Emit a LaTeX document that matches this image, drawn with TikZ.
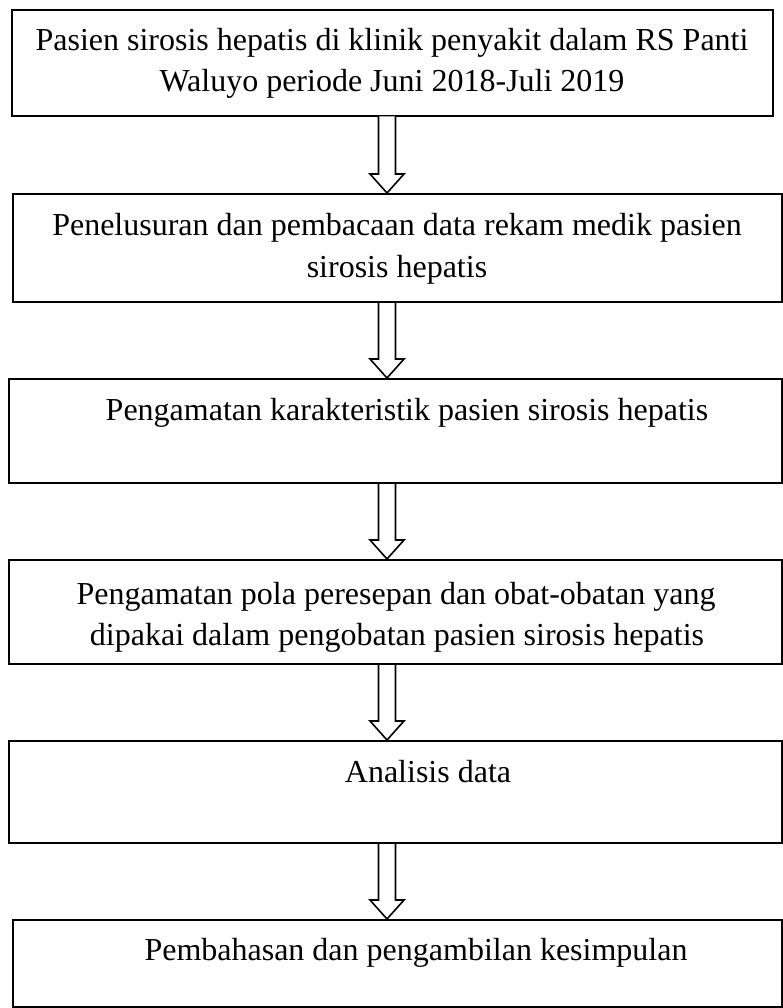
\documentclass[tikz,border=0pt]{standalone}
\usepackage{fontspec}
\setmainfont{Liberation Serif}
\usetikzlibrary{calc}
\tikzset{
  box/.style={draw=black, line width=2pt, rectangle},
  txt/.style={anchor=base, inner sep=0pt, font=\fontsize{32}{41}\selectfont},
  blockarrow/.style={draw=black, line width=1.6pt, line join=miter, fill=white},
}
\newcommand\blockarr[2]{%
  \draw[blockarrow] let \p1=(#1), \p2=(#2) in
    (\x1-8.5pt,\y1) -- (\x1-8.5pt,\y2+19pt) -- (\x1-17pt,\y2+19pt) -- (\x2,\y2)
    -- (\x1+17pt,\y2+19pt) -- (\x1+8.5pt,\y2+19pt) -- (\x1+8.5pt,\y1);}
\begin{document}
\begin{tikzpicture}[x=1pt,y=-1pt]
\useasboundingbox (0,0) rectangle (782,1008);
% boxes
\path[box] (12,10) rectangle (773,116);
\coordinate (b1n) at (387,10);
\node[inner sep=0pt, minimum width=761pt, minimum height=106pt, anchor=north west] (b1) at (12,10) {};
\node[box, inner sep=0pt, minimum width=769pt, minimum height=108pt, anchor=north west] (b2) at (12,193) {};
\node[box, inner sep=0pt, minimum width=773pt, minimum height=104pt, anchor=north west] (b3) at (8,378) {};
\node[box, inner sep=0pt, minimum width=773pt, minimum height=104pt, anchor=north west] (b4) at (8,559) {};
\node[box, inner sep=0pt, minimum width=773pt, minimum height=102pt, anchor=north west] (b5) at (8,740) {};
\node[box, inner sep=0pt, minimum width=769pt, minimum height=87pt, anchor=north west] (b6) at (12,919) {};
% texts
\node[txt] (t1a) at (392,51) {Pasien sirosis hepatis di klinik penyakit dalam RS Panti};
\node[txt] (t1b) at (392,92) {Waluyo periode Juni 2018-Juli 2019};
\node[txt] (t2a) at (397,236) {Penelusuran dan pembacaan data rekam medik pasien};
\node[txt] (t2b) at (397,277) {sirosis hepatis};
\node[txt] (t3) at (407,420) {Pengamatan karakteristik pasien sirosis hepatis};
\node[txt] (t4a) at (396,604) {Pengamatan pola peresepan dan obat-obatan yang};
\node[txt] (t4b) at (397,645) {dipakai dalam pengobatan pasien sirosis hepatis};
\node[txt] (t5) at (428,782) {Analisis data};
\node[txt] (t6) at (416,960) {Pembahasan dan pengambilan kesimpulan};
% arrows
\coordinate (ax) at (387,0);
\coordinate (a1s) at (b1.south -| ax); \coordinate (a1e) at (b2.north -| ax);
\coordinate (a2s) at (b2.south -| ax); \coordinate (a2e) at (b3.north -| ax);
\coordinate (a3s) at (b3.south -| ax); \coordinate (a3e) at (b4.north -| ax);
\coordinate (a4s) at (b4.south -| ax); \coordinate (a4e) at (b5.north -| ax);
\coordinate (a5s) at (b5.south -| ax); \coordinate (a5e) at (b6.north -| ax);
\blockarr{a1s}{a1e}
\blockarr{a2s}{a2e}
\blockarr{a3s}{a3e}
\blockarr{a4s}{a4e}
\blockarr{a5s}{a5e}
\end{tikzpicture}
\end{document}
